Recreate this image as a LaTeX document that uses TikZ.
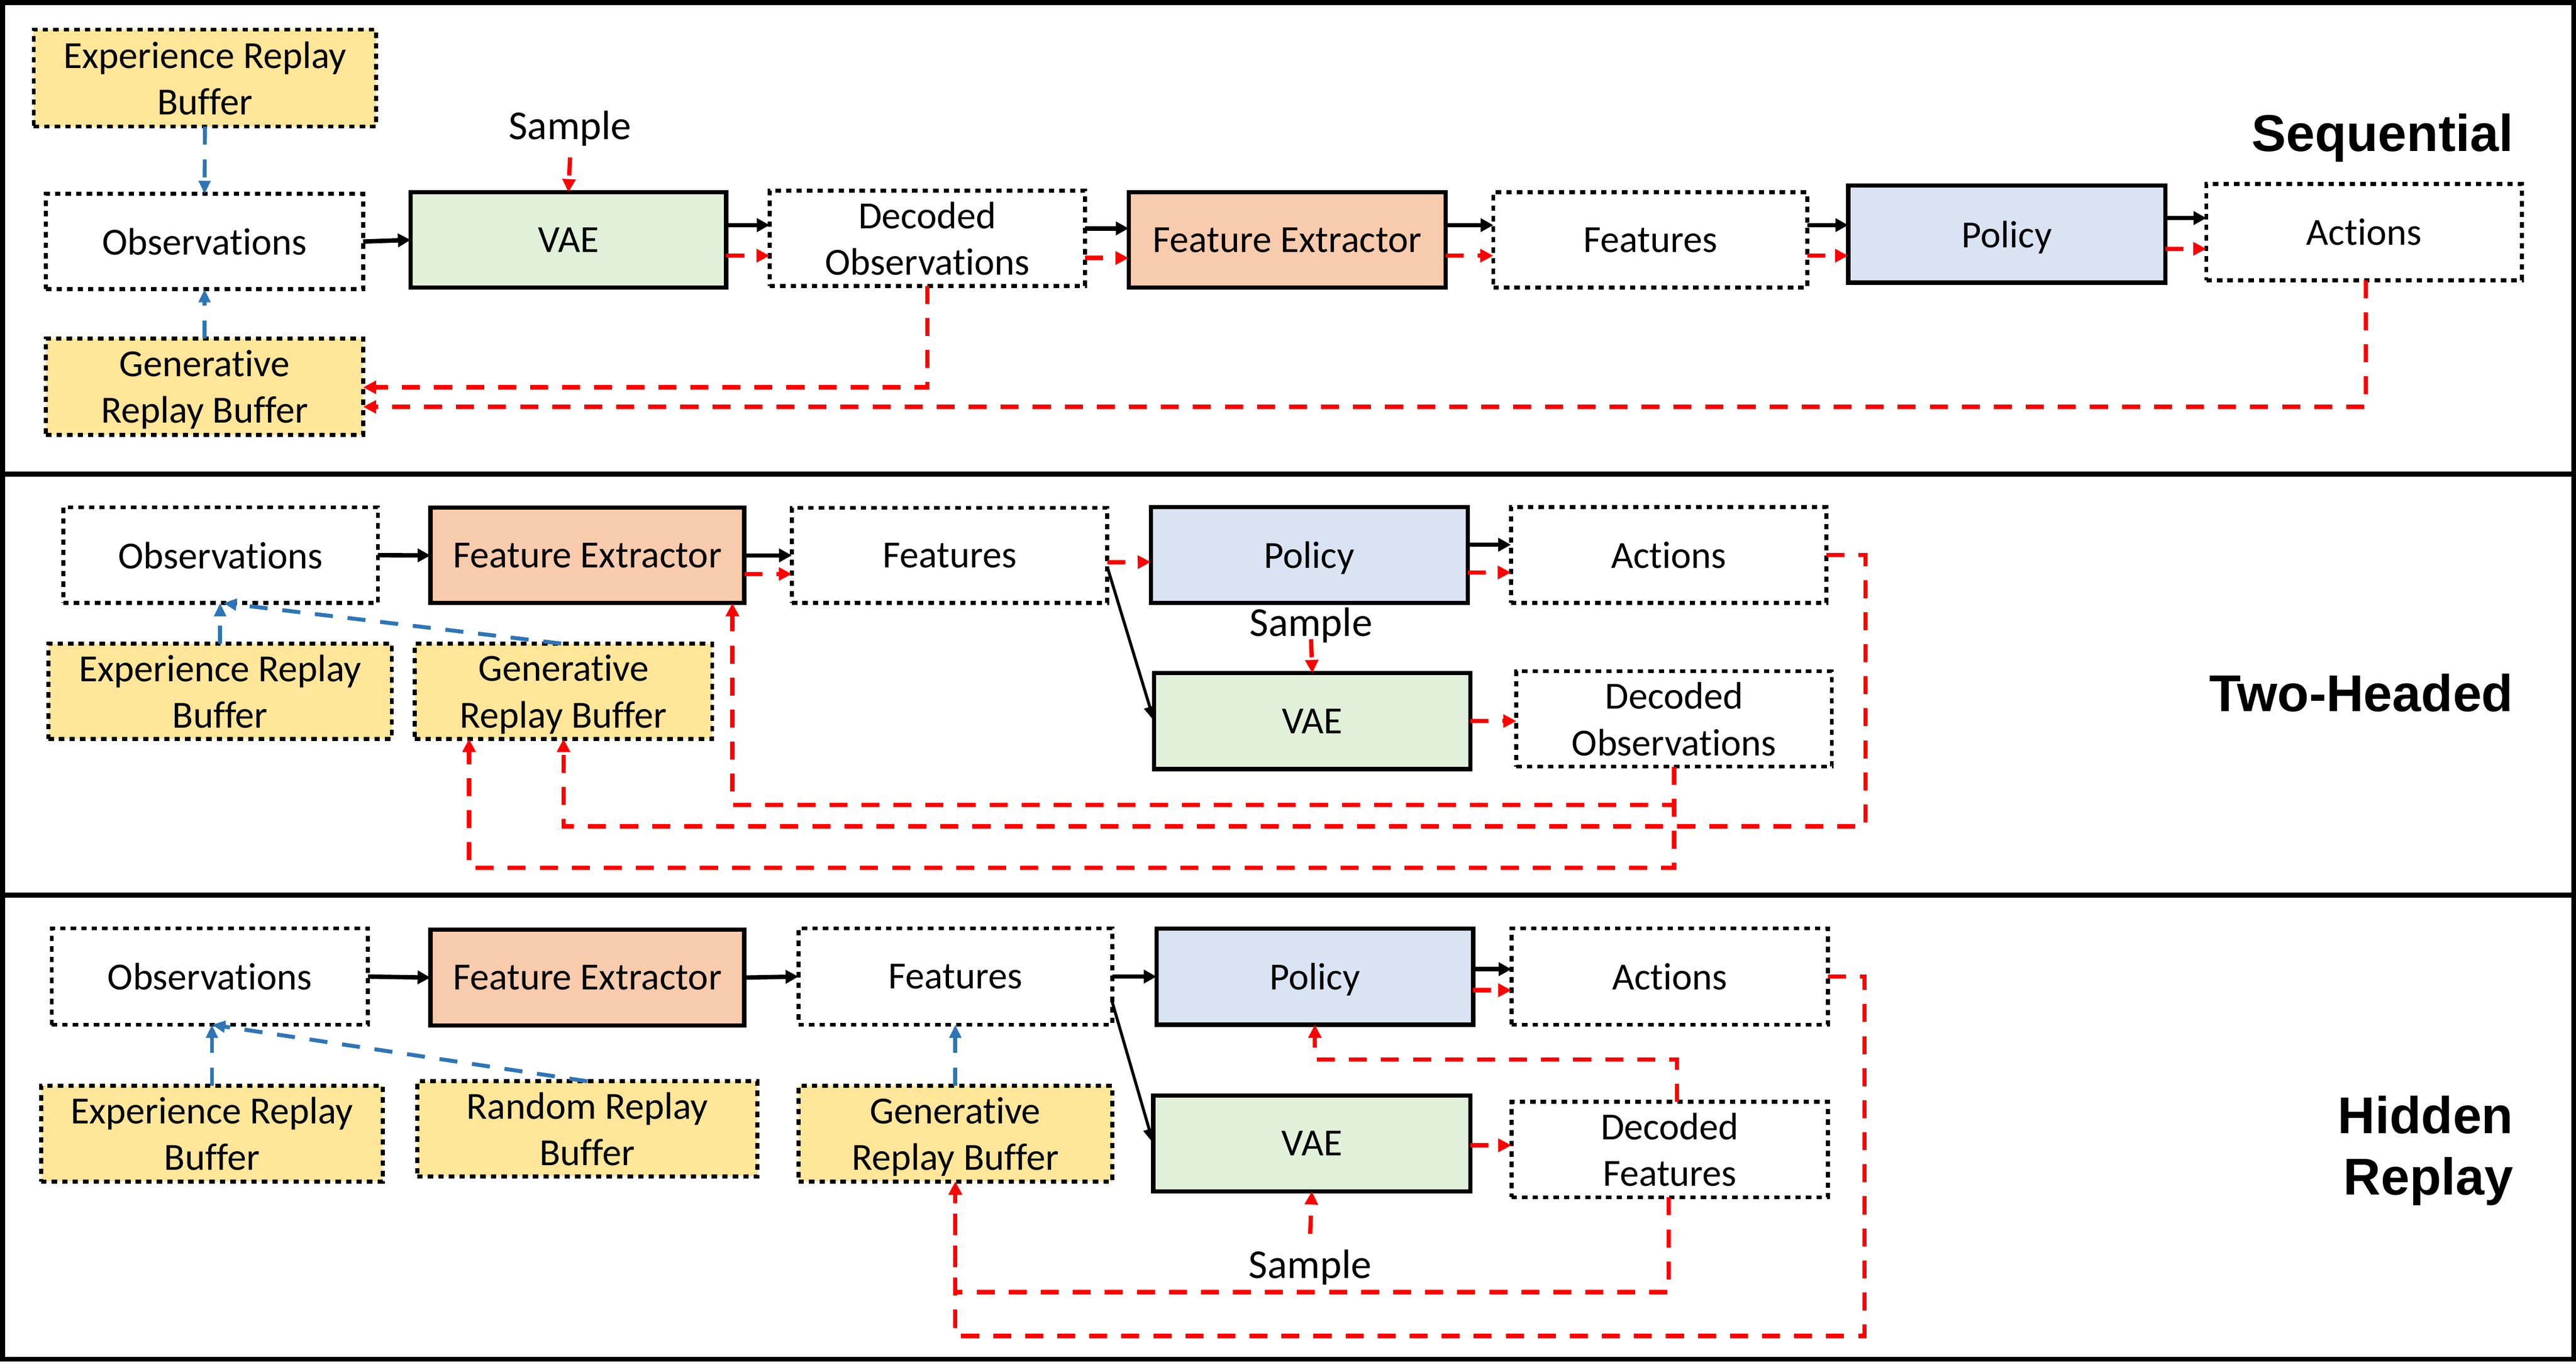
\documentclass[tikz,border=0pt]{standalone}
\usepackage{fontspec}
\setmainfont{Carlito}[Ligatures=NoCommon]
\newfontfamily\headfont{Liberation Sans}
\usetikzlibrary{arrows.meta}
\definecolor{bufy}{HTML}{FFE699}
\definecolor{vaeg}{HTML}{E2F0D9}
\definecolor{feo}{HTML}{F8CBAD}
\definecolor{polb}{HTML}{DAE3F3}
\definecolor{repb}{HTML}{2E75B6}
\definecolor{redc}{HTML}{FF0000}
\newcommand\boxfont{\fontsize{23.3pt}{28.3pt}\selectfont}
\newcommand\samplefont{\fontsize{25pt}{30pt}\selectfont}
\newcommand\headsize{\headfont\bfseries\fontsize{31.5pt}{37.3pt}\selectfont}
\begin{document}
\begin{tikzpicture}[x=1pt,y=-1pt,
  solidbox/.style={draw=black, line width=2.6pt, minimum width=192pt, minimum height=58pt,
    inner sep=0pt, outer sep=0pt, align=center, font=\boxfont, text depth=0pt},
  dotbox/.style={solidbox, line width=2.4pt, dash pattern=on 3.3pt off 3.1pt},
  bufbox/.style={dotbox, fill=bufy},
  vaebox/.style={solidbox, fill=vaeg},
  febox/.style={solidbox, fill=feo},
  polbox/.style={solidbox, fill=polb},
  samplelbl/.style={anchor=base, inner sep=0pt, font=\samplefont},
  headlbl/.style={inner sep=0pt, font=\headsize},
  blkarr/.style={draw=black, line width=2.7pt, -{Triangle[length=7.8pt,width=8pt]}},
  diagarr/.style={draw=black, line width=1.8pt, -{Triangle[length=9pt,width=7pt]}},
  redarr/.style={draw=redc, line width=2.6pt, dash pattern=on 11pt off 8.5pt, -{Triangle[length=8pt,width=7.8pt]}},
  bluearr/.style={draw=repb, line width=2.4pt, dash pattern=on 11pt off 9pt, -{Triangle[length=8pt,width=7pt]}}
]
\useasboundingbox (0,0) rectangle (1568,828.6);
% frame and panel separators
\draw[line width=3pt] (1.5,1.5) rectangle (1566.6,827.1);
\draw[line width=3.2pt] (0,288.5) -- (1568,288.5);
\draw[line width=3.2pt] (0,544.7) -- (1568,544.7);

% ================= Panel 1: Sequential =================
\node[bufbox, minimum width=208.5pt, minimum height=59pt] (exp1) at (124.75,47.5) {Experience Replay\\Buffer};
\node[dotbox, minimum width=193pt] (obs1) at (124.5,147) {Observations};
\node[vaebox] (vae1) at (346,146) {VAE};
\node[dotbox] (dec1) at (564.5,145) {Decoded\\Observations};
\node[febox, minimum width=193pt] (fe1) at (783.5,146) {Feature Extractor};
\node[dotbox, minimum width=191pt] (feat1) at (1004.5,146) {Features};
\node[polbox, minimum width=193pt, minimum height=59pt] (pol1) at (1221.5,142.5) {Policy};
\node[dotbox, minimum height=58.5pt] (act1) at (1439,141.25) {Actions};
\node[bufbox, minimum width=193pt, minimum height=58.6pt] (gen1) at (124.5,235.3) {Generative\\Replay Buffer};
\node[samplelbl] (sample1) at (347,84.8) {Sample};
\node[headlbl, anchor=base east] (seq) at (1530,92) {Sequential};

\draw[bluearr] (exp1.south) -- (obs1.north);
\draw[bluearr] (gen1.north) -- (obs1.south);
\draw[blkarr] (obs1.east) -- (vae1.west);
\draw[redarr] ([yshift=-11pt]sample1.base) -- (vae1.north);
\draw[blkarr] (vae1.east |- 0,137) -- (dec1.west |- 0,137);
\draw[redarr] (vae1.east |- 0,155.6) -- (dec1.west |- 0,155.6);
\draw[blkarr] (dec1.east |- 0,139) -- (fe1.west |- 0,139);
\draw[redarr] (dec1.east |- 0,157) -- (fe1.west |- 0,157);
\draw[blkarr] (fe1.east |- 0,137) -- (feat1.west |- 0,137);
\draw[redarr] (fe1.east |- 0,155.6) -- (feat1.west |- 0,155.6);
\draw[blkarr] (feat1.east |- 0,137) -- (pol1.west |- 0,137);
\draw[redarr] (feat1.east |- 0,155.6) -- (pol1.west |- 0,155.6);
\draw[blkarr] (pol1.east |- 0,132.7) -- (act1.west |- 0,132.7);
\draw[redarr] (pol1.east |- 0,151.4) -- (act1.west |- 0,151.4);
\draw[redarr] (dec1.south) |- ([yshift=-0.4pt]gen1.east);
\draw[redarr] ([xshift=1pt]act1.south) |- ([yshift=-12.3pt]gen1.east);

% ================= Panel 2: Two-Headed =================
\node[dotbox, minimum width=191.5pt, minimum height=58.3pt] (obs2) at (134.25,337.85) {Observations};
\node[febox, minimum width=191pt] (fe2) at (357.5,338) {Feature Extractor};
\node[dotbox] (feat2) at (578,338) {Features};
\node[polbox, minimum width=193pt, minimum height=58.4pt] (pol2) at (797,337.8) {Policy};
\node[dotbox, minimum height=58.4pt] (act2) at (1015.7,337.8) {Actions};
\node[bufbox, minimum width=209pt] (exp2) at (134,420.65) {Experience Replay\\Buffer};
\node[bufbox, minimum width=181pt] (gen2) at (343,420.65) {Generative\\Replay Buffer};
\node[vaebox, minimum width=192.5pt, minimum height=58.4pt] (vae2) at (798.75,438.8) {VAE};
\node[dotbox] (dec2) at (1019,437.5) {Decoded\\Observations};
\node[samplelbl] (sample2) at (798,387) {Sample};
\node[headlbl, anchor=base east] (two) at (1530,433) {Two-Headed};

\draw[blkarr] (obs2.east) -- (fe2.west);
\draw[blkarr] (fe2.east) -- (feat2.west);
\draw[redarr] ([yshift=-11.3pt]fe2.east) -- ([yshift=-11.3pt]feat2.west);
\draw[redarr] ([yshift=-4.2pt]feat2.east) -- ([yshift=-4.2pt]pol2.west);
\draw[diagarr] ([yshift=-7pt]feat2.east) -- (vae2.west);
\draw[blkarr] ([yshift=6.3pt]pol2.east) -- ([yshift=6.3pt]act2.west);
\draw[redarr] ([yshift=-10.6pt]pol2.east) -- ([yshift=-10.6pt]act2.west);
\draw[redarr] ([yshift=-2pt]sample2.base) -- (vae2.north);
\draw[redarr] (vae2.east |- 0,438.8) -- (dec2.west |- 0,438.8);
\draw[bluearr] (exp2.north) -- (exp2.north |- obs2.south);
\draw[bluearr] ([xshift=-1.4pt]gen2.north) -- ([xshift=1.75pt]obs2.south);
\draw[redarr] (dec2.south) -- ++(0,23.3) -| ([xshift=-7.2pt]fe2.south east);
\draw[redarr] (act2.east) -- ++(23.8,0) -- ++(0,165.1) -| (gen2.south);
\draw[redarr] (dec2.south) -- ++(0,61.5) -| ([xshift=-57.5pt]gen2.south);

% ================= Panel 3: Hidden Replay =================
\node[dotbox, minimum width=192.5pt, minimum height=58.6pt] (obs3) at (127.75,594.3) {Observations};
\node[febox, minimum width=191pt, minimum height=58.2pt] (fe3) at (357.5,594.9) {Feature Extractor};
\node[dotbox, minimum width=191pt, minimum height=58.6pt] (feat3) at (581.5,594.3) {Features};
\node[polbox, minimum width=192.7pt, minimum height=58.6pt] (pol3) at (800.35,594.3) {Policy};
\node[dotbox, minimum width=192.7pt, minimum height=58.6pt] (act3) at (1016.35,594.3) {Actions};
\node[bufbox, minimum width=208pt, minimum height=58.3pt] (exp3) at (129,689.85) {Experience Replay\\Buffer};
\node[bufbox, minimum width=207pt] (rand3) at (357.5,687) {Random Replay\\Buffer};
\node[bufbox, minimum width=191pt, minimum height=58.3pt] (gen3) at (581.5,689.85) {Generative\\Replay Buffer};
\node[vaebox, minimum width=193pt, minimum height=58.4pt] (vae3) at (798.5,695.8) {VAE};
\node[dotbox, minimum width=192.7pt, minimum height=58.1pt] (dec3) at (1016.35,699.55) {Decoded\\Features};
\node[samplelbl] (sample3) at (797.5,778) {Sample};
\node[headlbl, anchor=north east, align=right] (hid) at (1530,666.8) {Hidden\\Replay};

\draw[blkarr] (obs3.east) -- (fe3.west);
\draw[blkarr] (fe3.east) -- (feat3.west);
\draw[blkarr] (feat3.east) -- (pol3.west);
\draw[diagarr] ([yshift=-15.5pt]feat3.east) -- (vae3.west);
\draw[blkarr] ([yshift=4.5pt]pol3.east) -- ([yshift=4.5pt]act3.west);
\draw[redarr] ([yshift=-8.3pt]pol3.east) -- ([yshift=-8.3pt]act3.west);
\draw[redarr] (vae3.east |- 0,697) -- (dec3.west |- 0,697);
\draw[bluearr] (exp3.north) -- (exp3.north |- obs3.south);
\draw[bluearr] (rand3.north) -- ([xshift=1.3pt]obs3.south);
\draw[bluearr] (gen3.north) -- (feat3.south);
\draw[redarr] ([xshift=4.4pt]dec3.north) -- ++(0,-25.8) -| (pol3.south);
\draw[redarr] ([yshift=27.2pt]sample3.base) -- (vae3.south);
\draw[redarr] ([xshift=-0.6pt]dec3.south) -- ++(0,57.7) -| (gen3.south);
\draw[redarr] (act3.east) -- ++(22.3,0) -- ++(0,218.7) -| (gen3.south);
\end{tikzpicture}
\end{document}
